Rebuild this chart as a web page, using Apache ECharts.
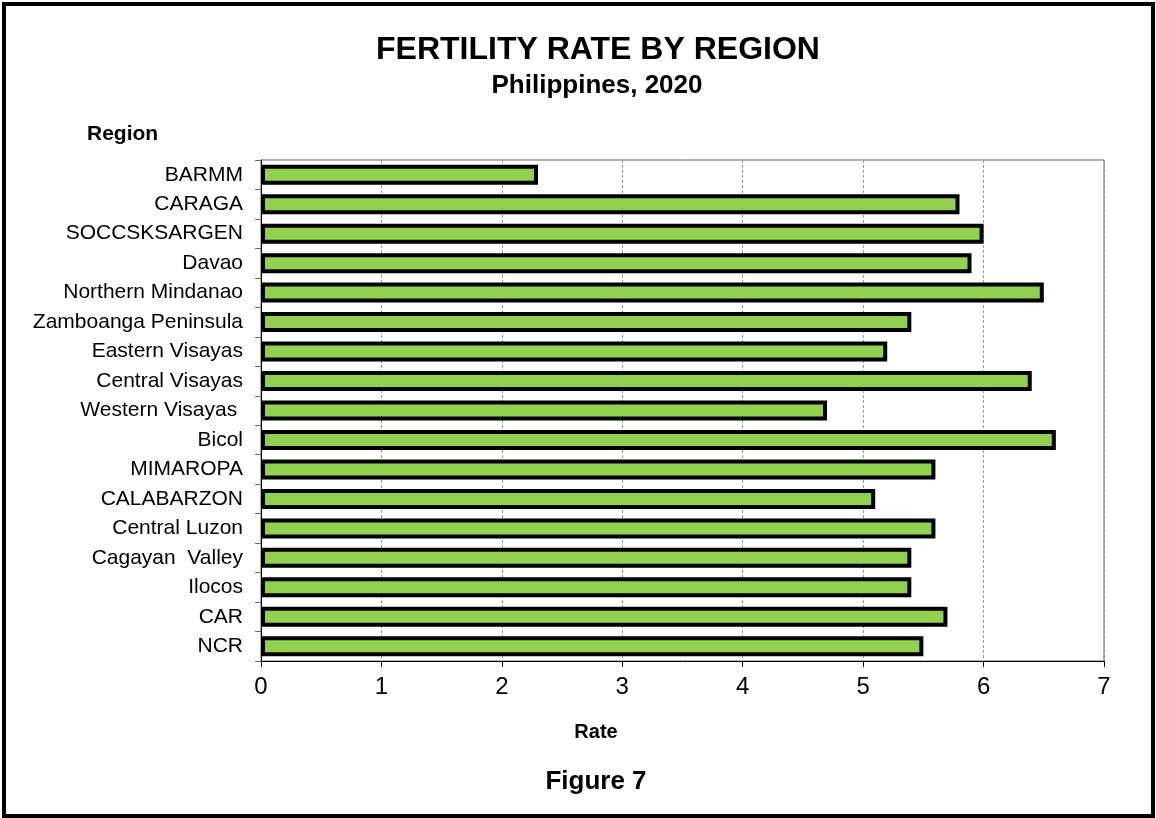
<!DOCTYPE html>
<html>
<head>
<meta charset="utf-8">
<script src="https://cdn.jsdelivr.net/npm/echarts@6/dist/echarts.min.js"></script>
<style>
  html, body { margin: 0; padding: 0; background: #fff; }
  #chart { width: 1156px; height: 818px; }
</style>
</head>
<body>
<div id="chart"></div>
<script>
// regions listed top to bottom as in the figure
const regions = [
  "BARMM", "CARAGA", "SOCCSKSARGEN", "Davao", "Northern Mindanao",
  "Zamboanga Peninsula", "Eastern Visayas", "Central Visayas", "Western Visayas ",
  "Bicol", "MIMAROPA", "CALABARZON", "Central Luzon", "Cagayan  Valley",
  "Ilocos", "CAR", "NCR"
];
const rates = [2.3, 5.8, 6.0, 5.9, 6.5, 5.4, 5.2, 6.4, 4.7, 6.6, 5.6, 5.1, 5.6, 5.4, 5.4, 5.7, 5.5];
const rateTicks = [0, 1, 2, 3, 4, 5, 6, 7];

const FONT = "Liberation Sans, Arial, sans-serif";

const chart = echarts.init(document.getElementById("chart"));

const option = {
  backgroundColor: "#fff",
  animation: false,
  textStyle: { fontFamily: FONT },
  grid: {
    left: 261,
    right: 52,
    top: 160,
    bottom: 157,
    show: true,
    borderColor: "#666",
    borderWidth: 1
  },
  xAxis: {
    type: "value",
    min: rateTicks[0],
    max: rateTicks[rateTicks.length - 1],
    interval: 1,
    axisLine: { show: true, lineStyle: { color: "#000", width: 1 } },
    axisTick: { show: true, length: 6, lineStyle: { color: "#000" } },
    axisLabel: { color: "#000", fontSize: 24, margin: 14, fontFamily: FONT },
    splitLine: { show: true, lineStyle: { color: "#999", type: [3, 2], width: 1 } }
  },
  yAxis: {
    type: "category",
    data: regions,
    inverse: true,
    axisLine: { show: true, lineStyle: { color: "#000", width: 1 } },
    axisTick: { show: true, length: 6, lineStyle: { color: "#666" } },
    axisLabel: { color: "#000", fontSize: 21, margin: 18, fontFamily: FONT },
    splitLine: { show: false }
  },
  series: [
    {
      type: "bar",
      data: rates,
      barWidth: 20,
      itemStyle: {
        color: "#92D050",
        borderColor: "#000",
        borderWidth: 4
      }
    }
  ],
  graphic: [
    {
      type: "rect",
      shape: { x: 4, y: 4, width: 1149, height: 812 },
      style: { fill: null, stroke: "#000", lineWidth: 4 },
      silent: true
    },
    {
      type: "text",
      x: 598, y: 50,
      style: {
        text: "FERTILITY RATE BY REGION",
        font: "bold 32px " + FONT,
        fill: "#000", align: "center", verticalAlign: "middle"
      }
    },
    {
      type: "text",
      x: 597, y: 86,
      style: {
        text: "Philippines, 2020",
        font: "bold 26px " + FONT,
        fill: "#000", align: "center", verticalAlign: "middle"
      }
    },
    {
      type: "text",
      x: 87, y: 134,
      style: {
        text: "Region",
        font: "bold 21px " + FONT,
        fill: "#000", align: "left", verticalAlign: "middle"
      }
    },
    {
      type: "text",
      x: 596, y: 732,
      style: {
        text: "Rate",
        font: "bold 20px " + FONT,
        fill: "#000", align: "center", verticalAlign: "middle"
      }
    },
    {
      type: "text",
      x: 596, y: 782,
      style: {
        text: "Figure 7",
        font: "bold 26px " + FONT,
        fill: "#000", align: "center", verticalAlign: "middle"
      }
    }
  ]
};

chart.setOption(option);
window.addEventListener("resize", () => chart.resize());
</script>
</body>
</html>
